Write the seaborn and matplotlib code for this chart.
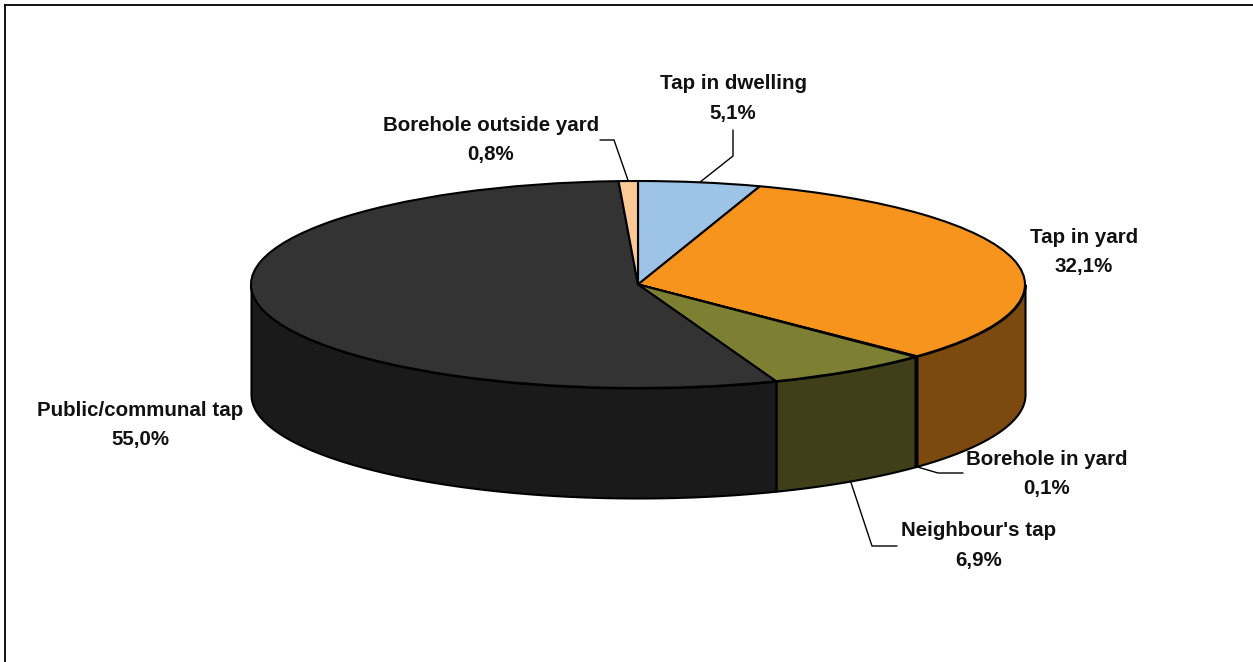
import numpy as np
import matplotlib
matplotlib.use("Agg")
import matplotlib.pyplot as plt
import seaborn as sns

# ---- data ----
categories = ["Tap in dwelling", "Tap in yard", "Borehole in yard",
              "Neighbour's tap", "Public/communal tap", "Borehole outside yard"]
values = [5.1, 32.1, 0.1, 6.9, 55.0, 0.8]
top_colors = ["#9DC3E6", "#F7941E", "#C9C27A", "#7D8033", "#333333", "#FAC995"]

# ---- layout (reference pixels, y from the top) ----
W, H = 1253, 662
CX, CY, RX, RY, DEPTH = 638, 284.5, 387, 103.5, 110
BORDER = 5
label_centers = [(733, 98.5), (1084, 252), (1047, 474),
                 (979, 545.5), (140, 425), (491, 140)]
# leader elbows per slice; the first point of each leader is computed from the slice
leaders = {0: [(733, 156), (733, 130)],
           2: [(938, 473), (963, 473)],
           3: [(872, 546), (897, 546)],
           5: [(614, 140), (600, 140)]}

sns.set_theme(style="white")
plt.rcParams["font.family"] = ["Liberation Sans", "DejaVu Sans"]
palette = sns.color_palette(top_colors)
side_palette = [tuple(c * 0.5 for c in col) for col in palette]

fig = plt.figure(figsize=(W / 100, H / 100), dpi=100, facecolor="white")
ax = fig.add_axes([BORDER / W, 0, (W - BORDER) / W, (H - BORDER) / H])


def px(x, y):
    """Reference pixel position -> data position (pie radius = 1)."""
    return (x - CX) / RX, (CY - y) / RY


EDGE = {"edgecolor": "black", "linewidth": 1.5}

# front wall, drawn from the slice shares
shares = np.array(values) / sum(values) * 360
stops = np.cumsum(shares)
starts = stops - shares
depth = DEPTH / RY
for a, b, col in zip(starts, stops, side_palette):
    lo, hi = max(a, 90), min(b, 270)
    if hi <= lo:
        continue
    th = np.radians(np.linspace(lo, hi, 120))
    ax.fill_between(np.sin(th), np.cos(th), np.cos(th) - depth,
                    facecolor=col, zorder=1, joinstyle="round", **EDGE)

# top face
ax.pie(values, colors=palette, startangle=90, counterclock=False, radius=1,
       wedgeprops={**EDGE, "joinstyle": "round"})
ax.set_aspect("auto")
ax.set_xlim(px(BORDER, 0)[0], px(W, 0)[0])
ax.set_ylim(px(0, H)[1], px(0, BORDER)[1])
ax.set_xticks([])
ax.set_yticks([])
ax.set_frame_on(True)
for side in ("right", "bottom"):
    ax.spines[side].set_visible(False)
for side in ("left", "top"):
    ax.spines[side].set_visible(True)
    ax.spines[side].set_color("black")
    ax.spines[side].set_linewidth(1.3)

# leaders, starting at the middle of their slice on the visible rim
for i, elbows in leaders.items():
    mid = np.radians((starts[i] + stops[i]) / 2)
    x0, y0 = np.sin(mid), np.cos(mid)
    if 90 < np.degrees(mid) < 270:
        y0 -= depth
    pts = [(x0, y0)] + [px(*p) for p in elbows]
    xs, ys = zip(*pts)
    ax.plot(xs, ys, color="black", lw=1.0, zorder=3, clip_on=False)

# labels
for name, val, (lx, ly) in zip(categories, values, label_centers):
    x, y = px(lx, ly)
    ax.text(x, y, f"{name}\n{val:.1f}%".replace(".", ","), ha="center", va="center",
            fontsize=14.8, fontweight="bold", color="#111111", linespacing=1.69, zorder=4)

fig.savefig("out.png", dpi=100, facecolor="white")
